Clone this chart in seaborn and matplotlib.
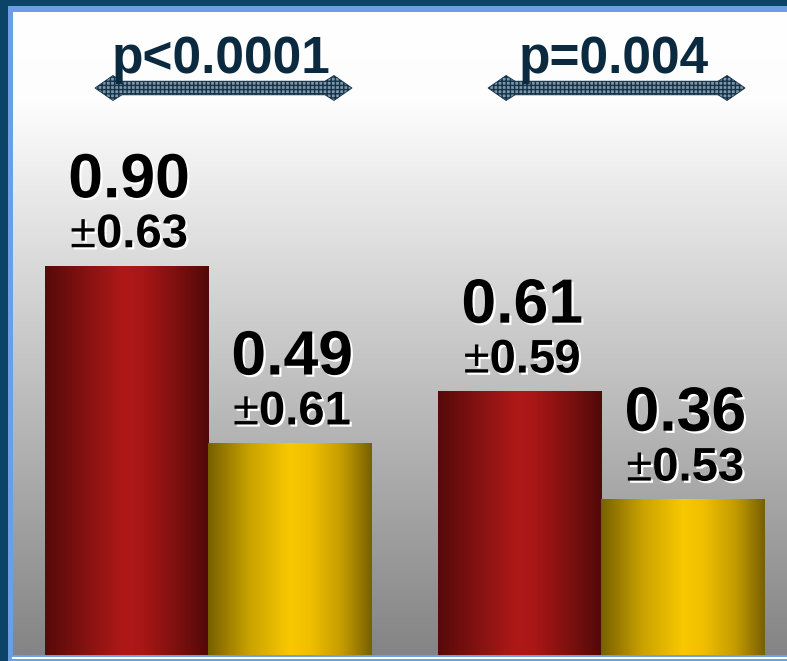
import numpy as np
import pandas as pd
import matplotlib
matplotlib.use("Agg")
import matplotlib.pyplot as plt
import seaborn as sns
from matplotlib import patheffects as pe
from matplotlib.colors import LinearSegmentedColormap
from matplotlib.patches import Polygon, Rectangle

# ---- data -------------------------------------------------------------
groups = ["Group 1", "Group 2"]
series = ["Series A", "Series B"]
means_a = [0.90, 0.61]
means_b = [0.49, 0.36]
sd_a = [0.63, 0.59]
sd_b = [0.61, 0.53]
p_labels = ["p<0.0001", "p=0.004"]

df = pd.DataFrame({
    "group": groups * 2,
    "series": [series[0]] * 2 + [series[1]] * 2,
    "mean": means_a + means_b,
    "sd": sd_a + sd_b,
})

# ---- styles -------------------------------------------------------------
sns.set_theme(style="white")
plt.rcParams["font.family"] = ["Liberation Sans", "DejaVu Sans"]
plt.rcParams["mathtext.fontset"] = "custom"
plt.rcParams["mathtext.rm"] = "Liberation Sans"
plt.rcParams["mathtext.default"] = "rm"
plt.rcParams["hatch.linewidth"] = 1.0

red_cmap = LinearSegmentedColormap.from_list("red_cyl", [
    (0.0, "#560a0a"), (0.25, "#861212"), (0.48, "#b01818"),
    (0.6, "#a81616"), (0.8, "#7e1010"), (1.0, "#520909")])
gold_cmap = LinearSegmentedColormap.from_list("gold_cyl", [
    (0.0, "#786000"), (0.25, "#c9a200"), (0.5, "#f8c800"),
    (0.62, "#f0c000"), (0.82, "#c49c00"), (1.0, "#786000")])
bg_cmap = LinearSegmentedColormap.from_list("bg", [
    (0.0, "#ffffff"), (0.14, "#fdfdfd"), (1.0, "#848484")])
series_cmaps = {series[0]: red_cmap, series[1]: gold_cmap}

W, H = 787, 661
fig = plt.figure(figsize=(W / 100, H / 100), dpi=100)
fig.patch.set_facecolor("#0b4466")
fig.add_artist(Rectangle((8 / W, 0), 1, (H - 6) / H, transform=fig.transFigure,
                         facecolor="#6c9ee6", edgecolor="none", zorder=0))

ax = fig.add_axes([13 / W, (H - 655) / H, 1 - 13 / W, (655 - 12) / H])

sns.barplot(data=df, x="group", y="mean", hue="series", order=groups,
            hue_order=series, palette=["#a01515", "#f0c000"], width=0.83,
            gap=0, errorbar=None, legend=False, ax=ax, zorder=2)

bars = [p for p in ax.patches if isinstance(p, Rectangle)]

xlim = (-0.496, 1.473)
ylim = (0, 1.488)

# background gradient
ax.imshow(np.linspace(0, 1, 256).reshape(-1, 1), extent=[0, 1, 0, 1],
          transform=ax.transAxes, aspect="auto", cmap=bg_cmap, zorder=0)

grad = np.linspace(0, 1, 256).reshape(1, -1)
shadow = [pe.SimplePatchShadow(offset=(1.6, -1.6), shadow_rgbFace="white", alpha=1.0),
          pe.Normal()]

for bar in bars:
    x0, w, h = bar.get_x(), bar.get_width(), bar.get_height()
    if h <= 0:
        continue
    cx = x0 + w / 2
    gi = int(round(cx))
    row = df[(df["group"] == groups[gi]) & np.isclose(df["mean"], h)].iloc[0]
    bar.set_alpha(0)
    ax.imshow(grad, extent=[x0, x0 + w, 0, h], aspect="auto",
              cmap=series_cmaps[row["series"]], zorder=2)
    ax.annotate(f"{row['mean']:.2f}", (cx, h), xytext=(2, 49.5), textcoords="offset points",
                ha="center", va="baseline", fontsize=45, fontweight="bold",
                color="black", path_effects=shadow, zorder=5)
    ax.annotate(r"$\pm$" + f"{row['sd']:.2f}", (cx, h), xytext=(2, 13.5),
                textcoords="offset points", ha="center", va="baseline", fontsize=34,
                fontweight="bold", color="black", path_effects=shadow, zorder=5)

ax.set_xlim(*xlim)
ax.set_ylim(*ylim)

# p-value labels with double-headed hatched arrows
fig.canvas.draw()
sx = ax.transData.transform((1, 0))[0] - ax.transData.transform((0, 0))[0]
sy = ax.transData.transform((0, 1))[1] - ax.transData.transform((0, 0))[1]
arrow_y = (655 - 88) / sy
label_y = (655 - 73) / sy
L = 257.0
shape_px = [(0, 0), (18, 12.5), (27, 6.8), (L - 27, 6.8), (L - 18, 12.5), (L, 0),
            (L - 18, -12.5), (L - 27, -6.8), (27, -6.8), (18, -12.5)]
for i, lab in enumerate(p_labels):
    left = i - 113 / sx
    pts = [(left + px / sx, arrow_y + py / sy) for px, py in shape_px]
    ax.add_patch(Polygon(pts, closed=True, facecolor="#7d95a7", edgecolor="#143248",
                         hatch="++++", linewidth=0.6, zorder=3))
    ax.text(i + 13 / sx, label_y, lab, ha="center", va="baseline", fontsize=37,
            fontweight="bold", color="#0b2a40", zorder=4)

# axes styling
for side in ["left", "top", "right"]:
    ax.spines[side].set_visible(False)
ax.spines["bottom"].set_color("white")
ax.spines["bottom"].set_linewidth(1.5)
ax.spines["bottom"].set_position(("outward", 2.2))
ax.set_xticks([])
ax.set_yticks([])
ax.set_xticks([0.5], minor=True)
ax.tick_params(axis="x", which="minor", direction="out", length=4, width=1.5,
               color="white", labelbottom=False)
ax.set_xlabel("")
ax.set_ylabel("")

fig.savefig("out.png", dpi=100, facecolor=fig.get_facecolor())
